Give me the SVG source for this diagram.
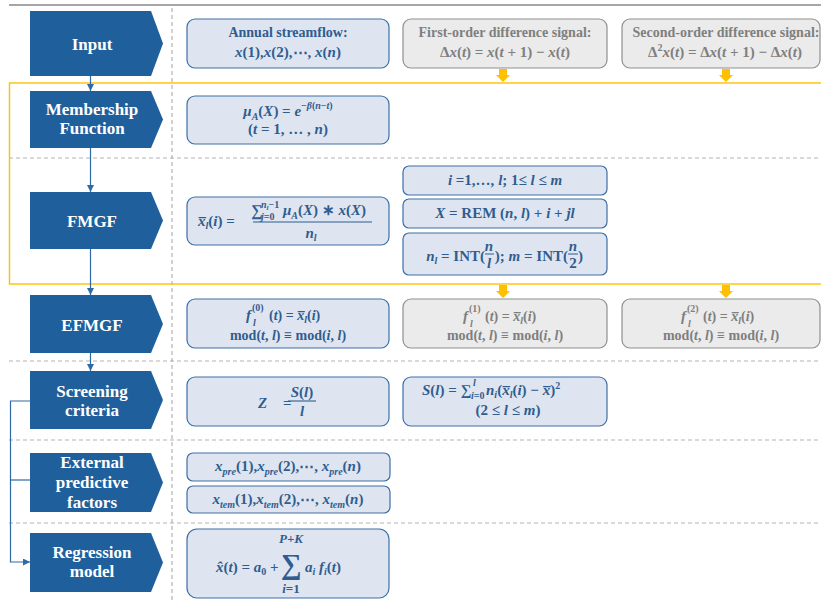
<svg xmlns="http://www.w3.org/2000/svg" width="821" height="603" viewBox="0 0 821 603">
<defs>
<style>
.nd{fill:#1f609c}
.lbl{font-family:"Liberation Serif","Times New Roman",serif;font-weight:bold;font-size:17px;fill:#ffffff;text-anchor:middle}
.box{fill:#dfe5f0;stroke:#3c6fa6;stroke-width:1.2}
.gbox{fill:#ebebeb;stroke:#8f8f8f;stroke-width:1.2}
.t{font-family:"Liberation Serif","Times New Roman",serif;font-weight:bold;font-size:14px;fill:#2f5d8f;text-anchor:middle}
.st{text-anchor:start}
.g{fill:#7f7f7f}
.i{font-style:italic}
.s{font-size:10px}
.m{font-size:15px}
.dash{stroke:#b3b3b3;stroke-width:1.2;stroke-dasharray:4 3;fill:none}
.con{stroke:#2e6aa6;stroke-width:1.2;fill:none}
.ya{fill:#ffc000}
</style>
<marker id="ah" viewBox="0 0 10 10" refX="10" refY="5" markerWidth="7" markerHeight="7" markerUnits="userSpaceOnUse" orient="auto">
<path d="M0,0 L10,5 L0,10 Z" fill="#2e6aa6"/>
</marker>
</defs>
<rect width="821" height="603" fill="#ffffff"/>

<g id="grid">
<line x1="9" y1="5" x2="821" y2="5" stroke="#a6a6a6" stroke-width="2"/>
<line class="dash" x1="172" y1="8" x2="172" y2="603"/>
<line class="dash" x1="9" y1="158" x2="821" y2="158"/>
<line class="dash" x1="9" y1="361" x2="821" y2="361"/>
<line class="dash" x1="9" y1="440" x2="821" y2="440"/>
<line class="dash" x1="9" y1="523" x2="821" y2="523"/>
<rect x="9.5" y="83" width="820" height="201" fill="none" stroke="#ffc000" stroke-width="1.4"/>
</g>

<g id="connectors">
<line class="con" x1="90.5" y1="76" x2="90.5" y2="91" marker-end="url(#ah)"/>
<line class="con" x1="90.5" y1="148" x2="90.5" y2="192" marker-end="url(#ah)"/>
<line class="con" x1="90.5" y1="249" x2="90.5" y2="295" marker-end="url(#ah)"/>
<line class="con" x1="90.5" y1="353" x2="90.5" y2="371" marker-end="url(#ah)"/>
<polyline class="con" points="30,401 10.5,401 10.5,562 30,562" marker-end="url(#ah)"/>
<line class="con" x1="10.5" y1="480" x2="30" y2="480"/>
<polygon class="ya" points="499,69 507,69 507,75 510,75 503,82 496,75 499,75"/>
<polygon class="ya" points="722,69 730,69 730,75 733,75 726,82 719,75 722,75"/>
<polygon class="ya" points="499,285 507,285 507,291 510,291 503,298 496,291 499,291"/>
<polygon class="ya" points="722,285 730,285 730,291 733,291 726,298 719,291 722,291"/>
</g>

<g id="input">
<path class="nd" d="M30,11 H151 L163,43.5 L151,76 H30 Z"/>
<text class="lbl" x="92" y="50">Input</text>
</g>
<g id="membership">
<path class="nd" d="M30,91 H151 L163,119.5 L151,148 H30 Z"/>
<text class="lbl" x="92" y="115">Membership</text>
<text class="lbl" x="92" y="134">Function</text>
</g>
<g id="fmgf">
<path class="nd" d="M30,192 H151 L163,220.5 L151,249 H30 Z"/>
<text class="lbl" x="92" y="227">FMGF</text>
</g>
<g id="efmgf">
<path class="nd" d="M30,295 H151 L163,324 L151,353 H30 Z"/>
<text class="lbl" x="92" y="331">EFMGF</text>
</g>
<g id="screening">
<path class="nd" d="M30,371 H151 L163,400 L151,429 H30 Z"/>
<text class="lbl" x="92" y="397">Screening</text>
<text class="lbl" x="92" y="416">criteria</text>
</g>
<g id="external">
<path class="nd" d="M30,453 H151 L163,482.5 L151,512 H30 Z"/>
<text class="lbl" x="92" y="468">External</text>
<text class="lbl" x="92" y="488">predictive</text>
<text class="lbl" x="92" y="508">factors</text>
</g>
<g id="regression">
<path class="nd" d="M30,533 H151 L163,562.5 L151,592 H30 Z"/>
<text class="lbl" x="92" y="558">Regression</text>
<text class="lbl" x="92" y="577">model</text>
</g>

<g id="streamflow">
<rect class="box" x="187" y="19" width="202" height="49" rx="8"/>
<text class="t" x="288" y="37">Annual streamflow:</text>
<text class="t m" x="288" y="57"><tspan class="i">x</tspan>(1),<tspan class="i">x</tspan>(2),⋯, <tspan class="i">x</tspan>(<tspan class="i">n</tspan>)</text>
</g>
<g id="first-order">
<rect class="gbox" x="403" y="19" width="204" height="49" rx="8"/>
<text class="t g" x="505" y="37">First-order difference signal:</text>
<text class="t g m" x="505" y="57">Δ<tspan class="i">x</tspan>(<tspan class="i">t</tspan>) = <tspan class="i">x</tspan>(<tspan class="i">t</tspan> + 1) − <tspan class="i">x</tspan>(<tspan class="i">t</tspan>)</text>
</g>
<g id="second-order">
<rect class="gbox" x="622" y="19" width="198" height="49" rx="8"/>
<text class="t g" x="726" y="37">Second-order difference signal:</text>
<text class="t g m" x="725" y="57">Δ<tspan class="s" dy="-6">2</tspan><tspan class="i" dy="6">x</tspan>(<tspan class="i">t</tspan>) = Δ<tspan class="i">x</tspan>(<tspan class="i">t</tspan> + 1) − Δ<tspan class="i">x</tspan>(<tspan class="i">t</tspan>)</text>
</g>

<g id="membership-formula">
<rect class="box" x="187" y="96" width="202" height="48" rx="8"/>
<text class="t m" x="288" y="116"><tspan class="i">μ</tspan><tspan class="i s" dy="4">A</tspan><tspan dy="-4">(</tspan><tspan class="i">X</tspan>) = <tspan class="i">e</tspan><tspan class="s" dy="-7">−</tspan><tspan class="i s">β</tspan><tspan class="s">(</tspan><tspan class="i s">n</tspan><tspan class="s">−</tspan><tspan class="i s">t</tspan><tspan class="s">)</tspan></text>
<text class="t m" x="288" y="134">(<tspan class="i">t</tspan> = 1, … , <tspan class="i">n</tspan>)</text>
</g>

<g id="fmgf-formula">
<rect class="box" x="187" y="197" width="202" height="48" rx="8"/>
<text class="t m st" x="198" y="226"><tspan class="i">x̅</tspan><tspan class="i s" dy="3">l</tspan><tspan dy="-3">(</tspan><tspan class="i">i</tspan>)  =</text>
<text class="t st" style="font-size:16px" x="251" y="216">∑</text>
<text class="t st i" style="font-size:10px" x="261" y="208">n<tspan style="font-size:7px" dy="2">l</tspan><tspan style="font-style:normal" dy="-2">−1</tspan></text>
<text class="t st s" x="261" y="220"><tspan class="i">j</tspan>=0</text>
<text class="t m st" x="283" y="215"><tspan class="i">μ</tspan><tspan class="i s" dy="4">A</tspan><tspan dy="-4">(</tspan><tspan class="i">X</tspan>) ∗ <tspan class="i">x</tspan>(<tspan class="i">X</tspan>)</text>
<line x1="253" y1="222" x2="372" y2="222" stroke="#2f5d8f" stroke-width="1.1"/>
<text class="t m" x="311" y="238"><tspan class="i">n</tspan><tspan class="i s" dy="3">l</tspan></text>
</g>

<g id="index-range">
<rect class="box" x="403" y="166" width="204" height="29" rx="6"/>
<text class="t" style="font-size:15px" x="505" y="185"><tspan class="i">i</tspan>  =1,…, <tspan class="i">l</tspan>;  1≤ <tspan class="i">l</tspan> ≤ <tspan class="i">m</tspan></text>
</g>
<g id="rem">
<rect class="box" x="403" y="199" width="204" height="29" rx="6"/>
<text class="t" style="font-size:15px" x="505" y="218"><tspan class="i">X</tspan> = REM (<tspan class="i">n</tspan>, <tspan class="i">l</tspan>) + <tspan class="i">i</tspan> + <tspan class="i">jl</tspan></text>
</g>
<g id="int">
<rect class="box" x="403" y="233" width="204" height="42" rx="6"/>
<text class="t m" style="text-anchor:end" x="485" y="261"><tspan class="i">n</tspan><tspan class="i s" dy="3">l</tspan><tspan dy="-3"> = INT(</tspan></text>
<text class="t m i" x="489" y="251">n</text>
<line x1="485" y1="254" x2="494" y2="254" stroke="#2f5d8f" stroke-width="1"/>
<text class="t m i" x="489" y="268">l</text>
<text class="t m" style="text-anchor:end" x="568" y="261">); <tspan class="i">m</tspan> = INT(</text>
<text class="t m i" x="573" y="251">n</text>
<line x1="568" y1="254" x2="578" y2="254" stroke="#2f5d8f" stroke-width="1"/>
<text class="t m" x="573" y="268">2</text>
<text class="t m st" x="578" y="261">)</text>
</g>

<g id="efmgf-formula">
<rect class="box" x="187" y="299" width="202" height="49" rx="8"/>
<text class="t m st" x="246" y="320"><tspan class="i">f</tspan></text>
<text class="t s st" x="252" y="311">(0)</text>
<text class="t s st i" x="253" y="326">l</text>
<text class="t st" x="269" y="320">(<tspan class="i">t</tspan>) = <tspan class="i">x̅</tspan><tspan class="i s" dy="3">l</tspan><tspan dy="-3">(</tspan><tspan class="i">i</tspan>)</text>
<text class="t" x="288" y="340">mod(<tspan class="i">t</tspan>, <tspan class="i">l</tspan>) ≡ mod(<tspan class="i">i</tspan>, <tspan class="i">l</tspan>)</text>
</g>
<g id="efmgf-1">
<rect class="gbox" x="403" y="299" width="204" height="49" rx="8"/>
<text class="t g m st" x="463" y="321"><tspan class="i">f</tspan></text>
<text class="t g s st" x="469" y="312">(1)</text>
<text class="t g s st i" x="470" y="327">l</text>
<text class="t g st" x="485" y="321">(<tspan class="i">t</tspan>) = <tspan class="i">x̅</tspan><tspan class="i s" dy="3">l</tspan><tspan dy="-3">(</tspan><tspan class="i">i</tspan>)</text>
<text class="t g" x="505" y="340">mod(<tspan class="i">t</tspan>, <tspan class="i">l</tspan>) ≡ mod(<tspan class="i">i</tspan>, <tspan class="i">l</tspan>)</text>
</g>
<g id="efmgf-2">
<rect class="gbox" x="622" y="299" width="198" height="49" rx="8"/>
<text class="t g m st" x="681" y="321"><tspan class="i">f</tspan></text>
<text class="t g s st" x="687" y="312">(2)</text>
<text class="t g s st i" x="688" y="327">l</text>
<text class="t g st" x="703" y="321">(<tspan class="i">t</tspan>) = <tspan class="i">x̅</tspan><tspan class="i s" dy="3">l</tspan><tspan dy="-3">(</tspan><tspan class="i">i</tspan>)</text>
<text class="t g" x="721" y="340">mod(<tspan class="i">t</tspan>, <tspan class="i">l</tspan>) ≡ mod(<tspan class="i">i</tspan>, <tspan class="i">l</tspan>)</text>
</g>

<g id="z-formula">
<rect class="box" x="187" y="377" width="202" height="49" rx="8"/>
<text class="t m st i" x="258" y="408">Z</text>
<text class="t m st" x="283" y="408">=</text>
<text class="t m" x="302" y="397"><tspan class="i">S</tspan>(<tspan class="i">l</tspan>)</text>
<line x1="288" y1="401" x2="316" y2="401" stroke="#2f5d8f" stroke-width="1.1"/>
<text class="t m i" x="302" y="416">l</text>
</g>
<g id="s-formula">
<rect class="box" x="403" y="377" width="204" height="49" rx="8"/>
<text class="t m st" x="422" y="395"><tspan class="i">S</tspan>(<tspan class="i">l</tspan>) = ∑</text>
<text class="t s st i" x="473" y="386">l</text>
<text class="t s st" x="471" y="399"><tspan class="i">i</tspan>=0</text>
<text class="t m st" x="486" y="395"><tspan class="i">n</tspan><tspan class="i s" dy="3">i</tspan><tspan dy="-3">(</tspan><tspan class="i">x̅</tspan><tspan class="i s" dy="3">l</tspan><tspan dy="-3">(</tspan><tspan class="i">i</tspan>) −  <tspan class="i">x̅</tspan>)<tspan class="s" dy="-6">2</tspan></text>
<text class="t m" x="508" y="415">(2 ≤  <tspan class="i">l</tspan>  ≤  <tspan class="i">m</tspan>)</text>
</g>

<g id="pre">
<rect class="box" x="187" y="453" width="203" height="28" rx="6"/>
<text class="t m" x="288" y="471"><tspan class="i">x</tspan><tspan class="i s" dy="4">pre</tspan><tspan dy="-4">(1),</tspan><tspan class="i">x</tspan><tspan class="i s" dy="4">pre</tspan><tspan dy="-4">(2),⋯, </tspan><tspan class="i">x</tspan><tspan class="i s" dy="4">pre</tspan><tspan dy="-4">(</tspan><tspan class="i">n</tspan>)</text>
</g>
<g id="tem">
<rect class="box" x="187" y="486" width="203" height="27" rx="6"/>
<text class="t m" x="288" y="504"><tspan class="i">x</tspan><tspan class="i s" dy="4">tem</tspan><tspan dy="-4">(1),</tspan><tspan class="i">x</tspan><tspan class="i s" dy="4">tem</tspan><tspan dy="-4">(2),⋯, </tspan><tspan class="i">x</tspan><tspan class="i s" dy="4">tem</tspan><tspan dy="-4">(</tspan><tspan class="i">n</tspan>)</text>
</g>

<g id="regression-formula">
<rect class="box" x="187" y="529" width="202" height="69" rx="10"/>
<text class="t m st" x="216" y="572"><tspan class="i">x̂</tspan>(<tspan class="i">t</tspan>) = <tspan class="i">a</tspan><tspan class="s" dy="3">0</tspan><tspan dy="-3"> +</tspan></text>
<text class="t" style="font-size:29px" x="291" y="574">∑</text>
<text class="t i" style="font-size:13px" x="291" y="543">P+K</text>
<text class="t" style="font-size:13px" x="291" y="593"><tspan class="i">i</tspan>=1</text>
<text class="t m st" x="305" y="572"><tspan class="i">a</tspan><tspan class="i s" dy="3">i</tspan><tspan dy="-3"> </tspan><tspan class="i">f</tspan><tspan class="i s" dy="3">i</tspan><tspan dy="-3">(</tspan><tspan class="i">t</tspan>)</text>
</g>
</svg>
